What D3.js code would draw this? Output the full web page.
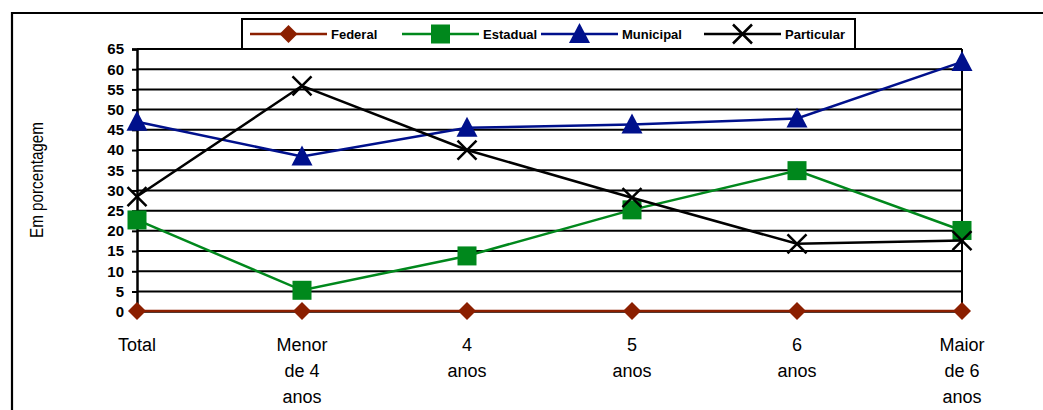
<!DOCTYPE html>
<html>
<head>
<meta charset="utf-8">
<script src="https://cdn.jsdelivr.net/npm/d3@7"></script>
<style>
	body { margin: 0; background: #fff; }
	svg text { font-family: "Liberation Sans", Arial, sans-serif; }
</style>
</head>
<body>
<svg id="chart" width="1043" height="410"></svg>
<script>
'use strict';
(function() {
	//Data
	var categories = [["Total"], ["Menor", "de 4", "anos"], ["4", "anos"], ["5", "anos"], ["6", "anos"], ["Maior", "de 6", "anos"]];
	var federal    = [0.2, 0.2, 0.2, 0.2, 0.2, 0.2];
	var estadual   = [22.7, 5.3, 13.8, 25.2, 34.9, 20.1];
	var municipal  = [47, 38.4, 45.5, 46.3, 47.8, 61.8];
	var particular = [28.5, 55.9, 40, 28.2, 16.8, 17.6];
	var yTicks = d3.range(0, 66, 5);

	var series = [
		{name: "Federal",    values: federal,    color: "#8b1f00", marker: "diamond"},
		{name: "Estadual",   values: estadual,   color: "#00881c", marker: "square"},
		{name: "Municipal",  values: municipal,  color: "#00108c", marker: "triangle"},
		{name: "Particular", values: particular, color: "#000000", marker: "cross"}
	];

	var svg = d3.select('#chart');

	//Outer frame (only top and left are visible)
	svg.append('path')
		.attr('d', "M 12 410 L 12 13 L 1043 13")
		.attr('fill', 'none')
		.attr('stroke', '#000')
		.attr('stroke-width', 2.2);

	/***************************************
	 * SCALES
	 ***************************************/
	var x = d3.scalePoint()
		.domain(d3.range(categories.length))
		.range([137, 962]);
	var y = d3.scaleLinear()
		.domain([0, 65])
		.range([311.7, 49]);

	//Gridlines
	svg.append('g').selectAll('line')
		.data(yTicks)
		.enter().append('line')
			.attr('x1', x(0)).attr('x2', x(categories.length-1))
			.attr('y1', function(d){return y(d);})
			.attr('y2', function(d){return y(d);})
			.attr('stroke', '#000')
			.attr('stroke-width', 2);

	//Right edge of the plot
	svg.append('line')
		.attr('x1', x(categories.length-1)).attr('x2', x(categories.length-1))
		.attr('y1', y(65)).attr('y2', y(0))
		.attr('stroke', '#000')
		.attr('stroke-width', 2);

	//Y axis
	var yAxis = svg.append('g')
		.attr('transform', "translate(" + x(0) + ",0)")
		.call(d3.axisLeft(y).tickValues(yTicks).tickSize(5).tickPadding(8));
	yAxis.select('.domain').attr('stroke-width', 2.5);
	yAxis.selectAll('.tick line').attr('stroke-width', 2);
	yAxis.selectAll('text')
		.style('font-size', '15px')
		.style('font-weight', 'bold')
		.attr('fill', '#000');

	//Y axis title (condensed face in the original)
	svg.append('text')
		.attr('transform', "translate(43,180) rotate(-90)")
		.attr('text-anchor', 'middle')
		.attr('textLength', 116)
		.attr('lengthAdjust', 'spacingAndGlyphs')
		.style('font-size', '18px')
		.text("Em porcentagem");

	//X labels
	svg.append('g').selectAll('text')
		.data(categories)
		.enter().append('text')
			.attr('text-anchor', 'middle')
			.style('font-size', '18px')
			.attr('y', 351)
			.each(function(d, i) {
				d3.select(this).selectAll('tspan')
					.data(d)
					.enter().append('tspan')
						.attr('x', x(i))
						.attr('dy', function(t, j){return j == 0 ? 0 : 26;})
						.text(function(t){return t;});
			});

	/***************************************
	 * MARKERS
	 ***************************************/
	function drawMarker(g, type, color) {
		if (type == "diamond")
			g.append('path').attr('d', "M 0 -9 L 9 0 L 0 9 L -9 0 Z").attr('fill', color);
		else if (type == "square")
			g.append('rect').attr('x', -9.5).attr('y', -9.5).attr('width', 19).attr('height', 19).attr('fill', color);
		else if (type == "triangle")
			g.append('path').attr('d', "M 0 -11 L 10.5 9 L -10.5 9 Z").attr('fill', color);
		else
			g.append('path').attr('d', "M -9.5 -9.5 L 9.5 9.5 M 9.5 -9.5 L -9.5 9.5")
				.attr('stroke', color).attr('stroke-width', 2.5).attr('fill', 'none');
	}

	var line = d3.line()
		.x(function(d, i){return x(i);})
		.y(function(d){return y(d);});

	series.forEach(function(s) {
		var g = svg.append('g');
		g.append('path')
			.attr('d', line(s.values))
			.attr('fill', 'none')
			.attr('stroke', s.color)
			.attr('stroke-width', 2.5);
		g.selectAll('g.marker')
			.data(s.values)
			.enter().append('g')
				.attr('transform', function(d, i){return "translate(" + x(i) + "," + y(d) + ")";})
				.each(function() { drawMarker(d3.select(this), s.marker, s.color); });
	});

	/***************************************
	 * LEGEND
	 ***************************************/
	var legend = svg.append('g');
	legend.append('rect')
		.attr('x', 242).attr('y', 19).attr('width', 613).attr('height', 30)
		.attr('fill', '#fff')
		.attr('stroke', '#000')
		.attr('stroke-width', 2);
	var legendX = [250, 402, 541, 704];
	series.forEach(function(s, i) {
		var lg = legend.append('g').attr('transform', "translate(" + legendX[i] + ",34)");
		lg.append('line')
			.attr('x1', 0).attr('x2', 77)
			.attr('stroke', s.color)
			.attr('stroke-width', 2.5);
		drawMarker(lg.append('g').attr('transform', "translate(38.5,0)"), s.marker, s.color);
		lg.append('text')
			.attr('x', 81).attr('y', 5)
			.style('font-size', '13px')
			.style('font-weight', 'bold')
			.text(s.name);
	});
})();
</script>
</body>
</html>
